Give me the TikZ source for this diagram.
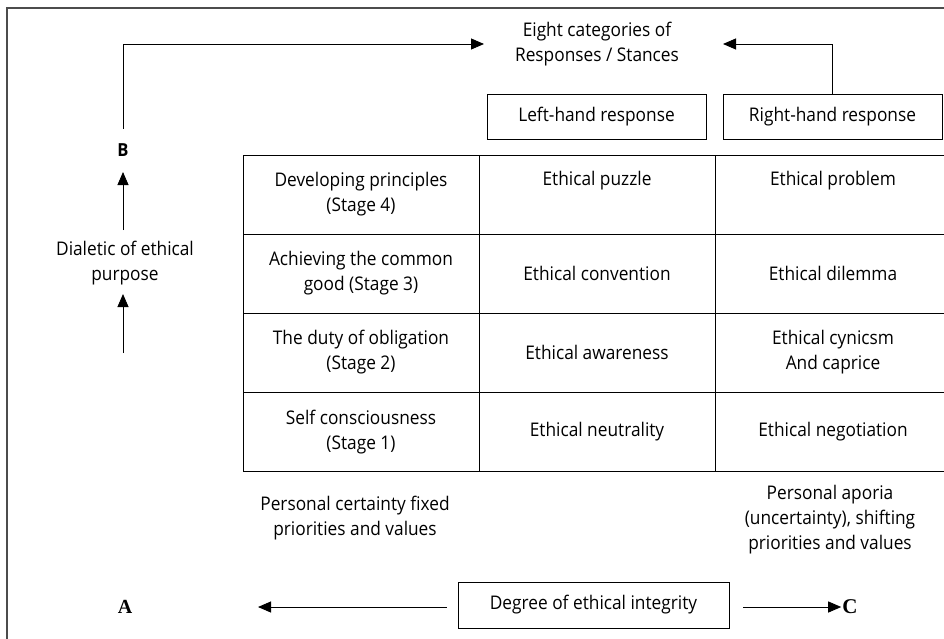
\documentclass[tikz,border=0pt]{standalone}
\usepackage{fontspec}
\setmainfont{Open Sans}[FakeStretch=0.92]
\newfontfamily\serifb{Liberation Serif}
\usetikzlibrary{arrows.meta}
\tikzset{
  txt/.style={font=\fontsize{18.8}{25}\selectfont, align=center, inner sep=2pt},
  cell/.style={txt, draw=black, line width=0.9pt, minimum width=236pt, minimum height=79pt, inner sep=0pt},
  hbox/.style={txt, draw=black, line width=0.9pt, minimum width=219pt, minimum height=45pt, inner sep=0pt},
  arr/.style={line width=0.9pt, -{Triangle[length=13pt,width=11pt]}},
  frame/.style={draw=black!70, line width=2pt},
  letter/.style={font=\fontsize{18}{20}\selectfont\bfseries, inner sep=1pt}
}
\begin{document}
\begin{tikzpicture}[x=1pt,y=-1pt]
\clip (0,0) rectangle (944,639);
\useasboundingbox (0,0) rectangle (944,639);
% frame
\draw[frame] (7,639) -- (7,8) -- (944,8);
% table
\node[cell] (r4c1) at (361,194.5) {Developing principles\\(Stage 4)};
\node[cell] (r4c2) at (597,194.5) {Ethical puzzle\\\strut};
\node[cell] (r4c3) at (833,194.5) {Ethical problem\\\strut};
\node[cell] (r3c1) at (361,273.5) {Achieving the common\\good (Stage 3)};
\node[cell] (r3c2) at (597,273.5) {Ethical convention};
\node[cell] (r3c3) at (833,273.5) {Ethical dilemma};
\node[cell] (r2c1) at (361,352.5) {The duty of obligation\\(Stage 2)};
\node[cell] (r2c2) at (597,352.5) {Ethical awareness};
\node[cell] (r2c3) at (833,352.5) {Ethical cynicsm\\And caprice};
\node[cell] (r1c1) at (361,432) {Self consciousness\\(Stage 1)};
\node[cell] (r1c2) at (597,432) {Ethical neutrality};
\node[cell] (r1c3) at (833,432) {Ethical negotiation};
% header
\node[txt] (eight) at (597,44) {Eight categories of\\Responses / Stances};
\node[hbox] (lh) at (596.5,116.5) {Left-hand response};
\node[hbox] (rh) at (832.5,116.5) {Right-hand response};
\coordinate (t1) at (484,44);
\coordinate (t2) at (723,44);
\draw[arr] (rh.north) |- (t2);
% left axis
\node[letter] (B) at (123,150) {B};
\node[txt] (dial) at (125,263) {Dialetic of ethical\\purpose};
\coordinate (bs) at (123,129);
\draw[arr] (bs) |- (t1);
\coordinate (u1) at (123,230);
\coordinate (u1t) at (123,172);
\coordinate (u2) at (123,353);
\coordinate (u2t) at (123,294);
\draw[arr] (u1) -- (u1t);
\draw[arr] (u2) -- (u2t);
% lower texts
\node[txt] (pc) at (355,518.5) {Personal certainty fixed\\priorities and values};
\node[txt] (pa) at (830,520) {Personal aporia\\(uncertainty), shifting\\priorities and values};
% bottom axis
\node[hbox, minimum width=271pt, minimum height=46pt] (deg) at (593.5,605) {Degree of ethical integrity};
\node[letter, font=\fontsize{20}{20}\selectfont\serifb\bfseries] (A) at (125,607) {A};
\node[letter, font=\fontsize{21}{20}\selectfont\serifb\bfseries] (C) at (850,607) {C};
\draw[arr] ([xshift=-11pt]deg.west |- A) -- ([xshift=133pt]A.center);
\draw[arr] ([xshift=14pt]deg.east |- C) -- (C.west);
\end{tikzpicture}
\end{document}
